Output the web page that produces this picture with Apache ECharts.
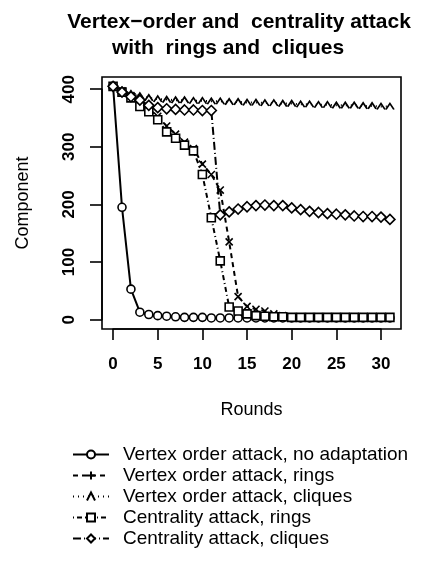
<!DOCTYPE html>
<html>
<head>
<meta charset="utf-8">
<script src="https://cdn.jsdelivr.net/npm/echarts@6.0.0/dist/echarts.min.js"></script>
<style>
  html, body { margin: 0; padding: 0; background: #fff; }
  #chart { width: 432px; height: 563px; }
</style>
</head>
<body>
<div id="chart"></div>
<script>
// x values (rounds)
const rounds = [0, 1, 2, 3, 4, 5, 6, 7, 8, 9, 10, 11, 12, 13, 14, 15,
  16, 17, 18, 19, 20, 21, 22, 23, 24, 25, 26, 27, 28, 29, 30, 31]

// component size per round
const vertexNoAdapt = [405, 195, 53, 13, 9, 7, 6, 5, 4, 4, 4, 3, 3, 3, 3, 3,
  3, 3, 3, 3, 3, 3, 3, 3, 3, 3, 3, 3, 3, 3, 3, 3]
const vertexRings = [405, 397, 389, 376, 366, 353, 336, 322, 308, 297, 270, 252, 225, 135, 40, 23,
  18, 15, 10, 7, 5, 5, 5, 5, 5, 5, 5, 5, 5, 5, 5, 5]
const vertexCliques = [405, 398, 392, 388, 385, 383, 382, 381, 381, 380, 380, 379, 379, 378, 378, 377,
  377, 376, 376, 375, 375, 374, 374, 373, 373, 372, 372, 372, 371, 371, 370, 370]
const centralityRings = [405, 395, 385, 370, 361, 347, 326, 315, 303, 293, 252, 177, 102, 22, 15, 10,
  7, 6, 5, 5, 4, 4, 4, 4, 4, 4, 4, 4, 4, 4, 4, 4]
const centralityCliques = [405, 395, 387, 381, 372, 368, 366, 365, 364, 364, 363, 363, 182, 187, 192, 196,
  198, 199, 198, 198, 194, 191, 188, 186, 184, 183, 182, 180, 179, 179, 178, 174]

// axis ranges (R style: data range padded by 4%)
const xRange = [-1.24, 32.24]
const yRange = [-16.2, 421.2]
const xTickRange = [0, 30]
const yTickRange = [0, 400]
const xStep = 5
const yStep = 100

const seriesNames = [
  'Vertex order attack, no adaptation',
  'Vertex order attack, rings',
  'Vertex order attack, cliques',
  'Centrality attack, rings',
  'Centrality attack, cliques'
]

const font = "'Liberation Sans', Arial, sans-serif"

// plot box in pixels
const box = { left: 102, top: 77, width: 299, height: 252 }
const pxX = box.width / (xRange[1] - xRange[0])
const pxY = box.height / (yRange[1] - yRange[0])
// sub-box that only covers the tick range, so ticks land on 0..30 / 0..400
const tickBox = {
  left: box.left + (xTickRange[0] - xRange[0]) * pxX,
  top: box.top + (yRange[1] - yTickRange[1]) * pxY,
  width: (xTickRange[1] - xTickRange[0]) * pxX,
  height: (yTickRange[1] - yTickRange[0]) * pxY
}

const pairs = vals => rounds.map((r, i) => [r, vals[i]])

function lineSeries(name, vals, symbol, size, dash, fill, extra) {
  return Object.assign({
    name: name,
    type: 'line',
    data: pairs(vals),
    symbol: symbol,
    symbolSize: size,
    showSymbol: true,
    lineStyle: { color: '#000', width: 2, type: dash },
    itemStyle: { color: fill, borderColor: '#000', borderWidth: 1.6 },
    emphasis: { disabled: true },
    animation: false
  }, extra || {})
}

const hidden = {
  axisLine: { show: false, onZero: false },
  axisTick: { show: false },
  axisLabel: { show: false },
  splitLine: { show: false }
}

const chart = echarts.init(document.getElementById('chart'))

const option = {
  backgroundColor: '#fff',
  textStyle: { fontFamily: font },
  title: [
    {
      text: 'Vertex\u2212order and  centrality attack',
      left: 234,
      top: 7,
      textAlign: 'center',
      textStyle: { fontFamily: font, fontSize: 21, fontWeight: 'bold', color: '#000' }
    },
    {
      text: 'with  rings and  cliques',
      left: 223,
      top: 33,
      textAlign: 'center',
      textStyle: { fontFamily: font, fontSize: 21, fontWeight: 'bold', color: '#000' }
    }
  ],
  grid: [
    Object.assign({ show: true, borderColor: '#000', borderWidth: 1.6 }, box),
    Object.assign({ show: false }, tickBox)
  ],
  xAxis: [
    Object.assign({
      type: 'value',
      gridIndex: 0,
      min: xRange[0],
      max: xRange[1],
      position: 'bottom',
      name: 'Rounds',
      nameLocation: 'middle',
      nameGap: 72,
      nameTextStyle: { fontSize: 18, color: '#000', fontFamily: font }
    }, hidden),
    {
      type: 'value',
      gridIndex: 1,
      min: xTickRange[0],
      max: xTickRange[1],
      interval: xStep,
      position: 'bottom',
      offset: box.top + box.height - tickBox.top - tickBox.height,
      splitLine: { show: false },
      axisLine: { show: true, onZero: false, lineStyle: { color: '#000', width: 1.6 } },
      axisTick: { show: true, inside: false, length: 11, lineStyle: { color: '#000', width: 1.6 } },
      axisLabel: { fontSize: 17, fontWeight: 'bold', color: '#000', margin: 27, fontFamily: font }
    }
  ],
  yAxis: [
    Object.assign({
      type: 'value',
      gridIndex: 0,
      min: yRange[0],
      max: yRange[1],
      position: 'left',
      name: 'Component',
      nameLocation: 'middle',
      nameGap: 70,
      nameTextStyle: { fontSize: 18, color: '#000', fontFamily: font }
    }, hidden),
    {
      type: 'value',
      gridIndex: 1,
      min: yTickRange[0],
      max: yTickRange[1],
      interval: yStep,
      position: 'left',
      offset: tickBox.left - box.left,
      splitLine: { show: false },
      axisLine: { show: true, onZero: false, lineStyle: { color: '#000', width: 1.6 } },
      axisTick: { show: true, inside: false, length: 12, lineStyle: { color: '#000', width: 1.6 } },
      axisLabel: { rotate: 90, fontSize: 17, fontWeight: 'bold', color: '#000', margin: 24, fontFamily: font }
    }
  ],
  legend: {
    orient: 'vertical',
    left: 67,
    top: 440,
    itemWidth: 36,
    itemHeight: 10,
    itemGap: 2,
    symbolRotate: 0,
    selectedMode: false,
    data: seriesNames,
    textStyle: { fontSize: 19, color: '#000', fontFamily: font, padding: [0, 0, 0, 9] }
  },
  series: [
    lineSeries(seriesNames[0], vertexNoAdapt, 'circle', 8, 'solid', '#fff'),
    lineSeries(seriesNames[1], vertexRings, 'path://M5,0L5,10M0,5L10,5', 10, [5, 4], 'none', { symbolRotate: 45 }),
    lineSeries(seriesNames[2], vertexCliques, 'path://M0,8L5,0L10,8', [8, 6], [1, 4], 'none'),
    lineSeries(seriesNames[3], centralityRings, 'rect', 8, [1, 3, 5, 3], '#fff'),
    lineSeries(seriesNames[4], centralityCliques, 'diamond', [10, 10], [8, 3, 1, 3], '#fff')
  ]
}

chart.setOption(option)
</script>
</body>
</html>
